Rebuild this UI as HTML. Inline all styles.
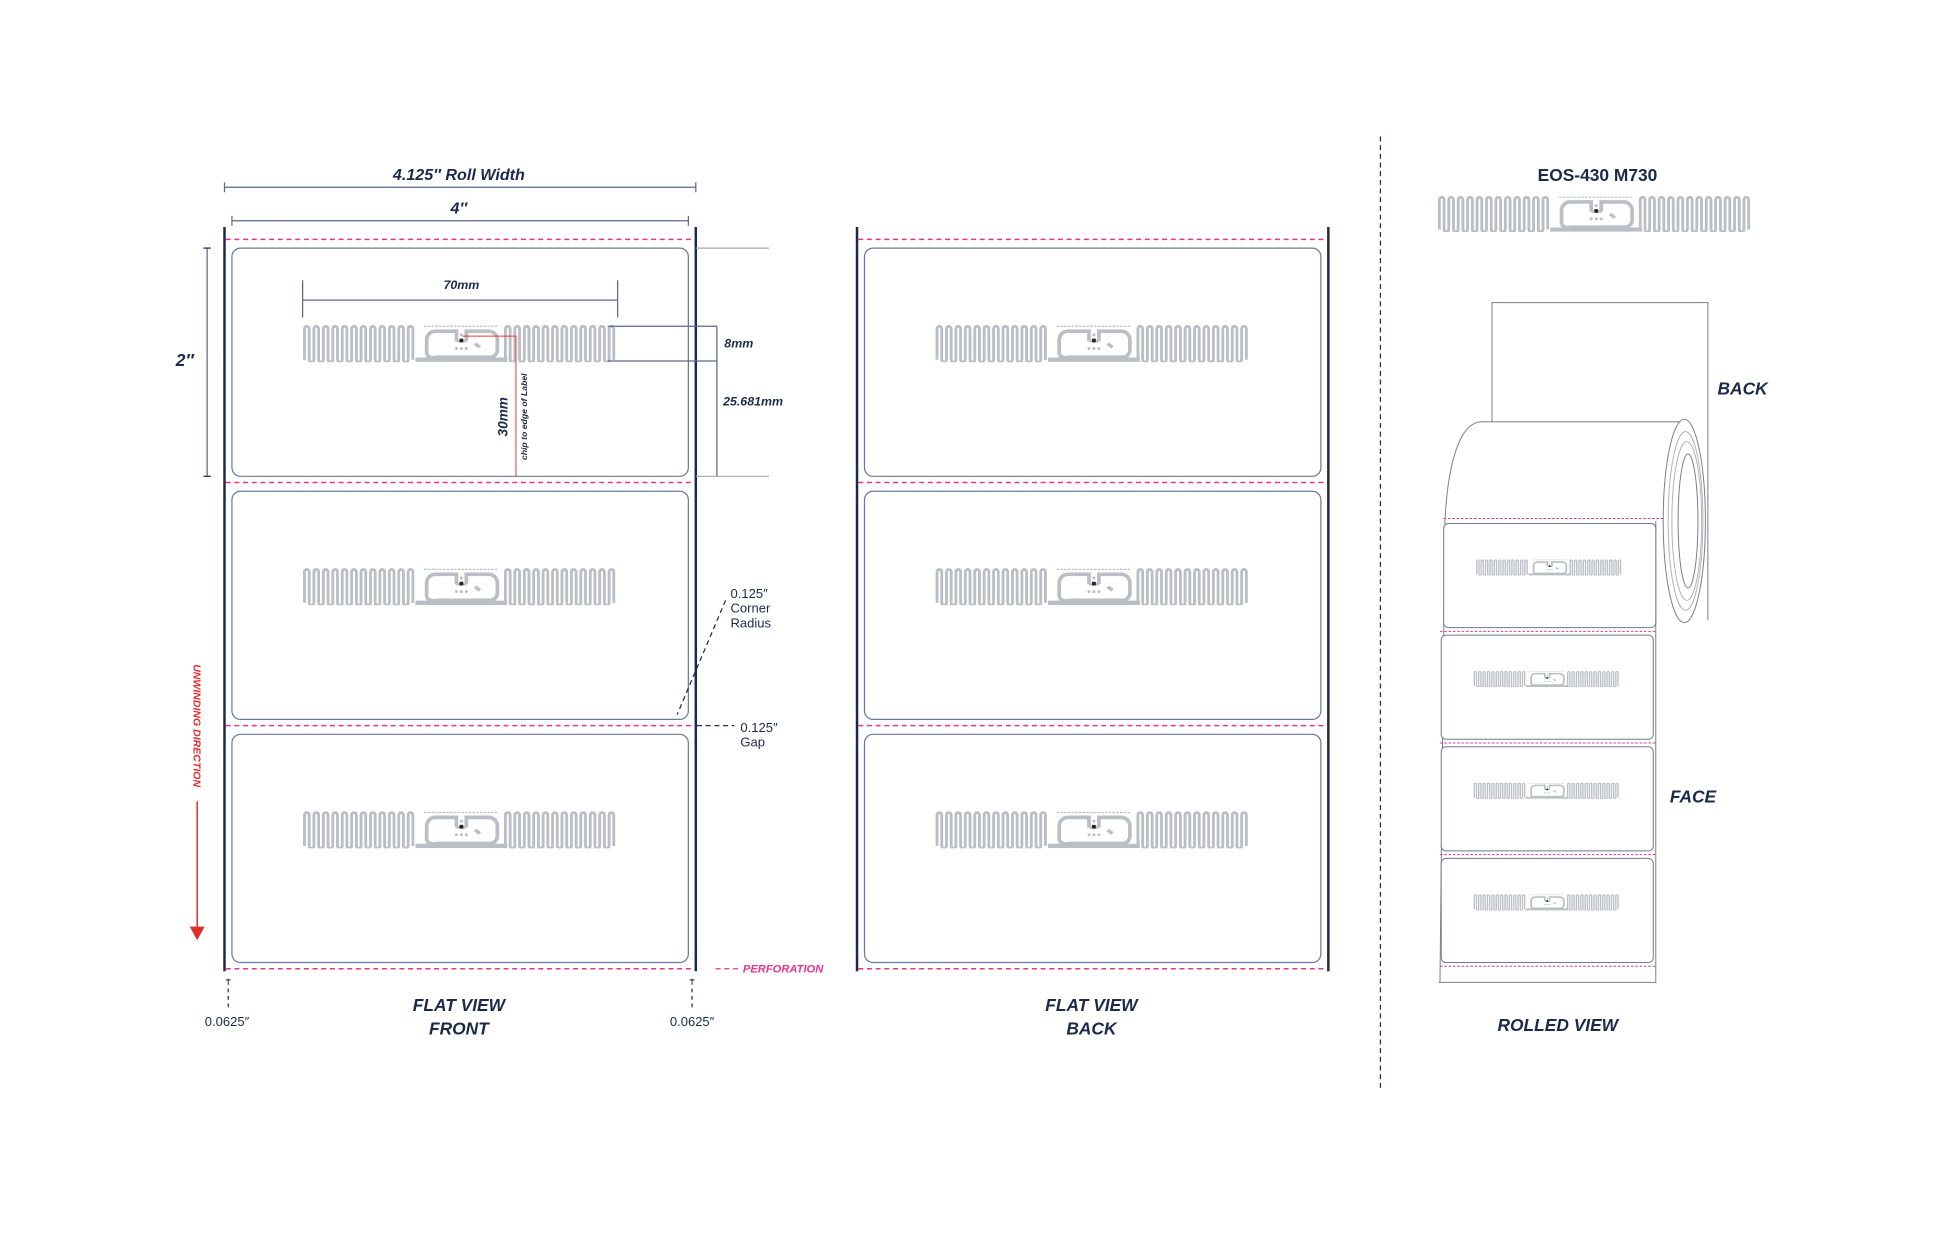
<!DOCTYPE html>
<html><head><meta charset="utf-8">
<style>
html,body{margin:0;padding:0;background:#fff;}
svg{display:block;}
text{font-family:"Liberation Sans",sans-serif;}
.h{font-weight:bold;font-style:italic;fill:#1b2a4a;}
.s{fill:#1b2a4a;font-size:10.5px;}
</style></head><body>
<svg width="1946" height="1259" viewBox="0 0 1569 1015" preserveAspectRatio="none" xmlns="http://www.w3.org/2000/svg">
<defs>
<symbol id="ant" viewBox="0 0 254 30" preserveAspectRatio="none">
<g fill="none" stroke="#b9bfc5" stroke-width="2.3">
<path d="M1.5,28 v-25 a1.9 1.9 0 0 1 3.8 0 v25 a1.9 1.9 0 0 0 3.8 0 v-25 a1.9 1.9 0 0 1 3.8 0 v25 a1.9 1.9 0 0 0 3.8 0 v-25 a1.9 1.9 0 0 1 3.8 0 v25 a1.9 1.9 0 0 0 3.8 0 v-25 a1.9 1.9 0 0 1 3.8 0 v25 a1.9 1.9 0 0 0 3.8 0 v-25 a1.9 1.9 0 0 1 3.8 0 v25 a1.9 1.9 0 0 0 3.8 0 v-25 a1.9 1.9 0 0 1 3.8 0 v25 a1.9 1.9 0 0 0 3.8 0 v-25 a1.9 1.9 0 0 1 3.8 0 v25 a1.9 1.9 0 0 0 3.8 0 v-25 a1.9 1.9 0 0 1 3.8 0 v25 a1.9 1.9 0 0 0 3.8 0 v-25 a1.9 1.9 0 0 1 3.8 0 v25 a1.9 1.9 0 0 0 3.8 0 v-25 a1.9 1.9 0 0 1 3.8 0 v25 a1.9 1.9 0 0 0 3.8 0 v-25 a1.9 1.9 0 0 1 3.8 0 v25 a1.9 1.9 0 0 0 3.8 0 v-25 a1.9 1.9 0 0 1 3.8 0 v25"/>
<path d="M163.5,28 v-25 a1.9 1.9 0 0 1 3.8 0 v25 a1.9 1.9 0 0 0 3.8 0 v-25 a1.9 1.9 0 0 1 3.8 0 v25 a1.9 1.9 0 0 0 3.8 0 v-25 a1.9 1.9 0 0 1 3.8 0 v25 a1.9 1.9 0 0 0 3.8 0 v-25 a1.9 1.9 0 0 1 3.8 0 v25 a1.9 1.9 0 0 0 3.8 0 v-25 a1.9 1.9 0 0 1 3.8 0 v25 a1.9 1.9 0 0 0 3.8 0 v-25 a1.9 1.9 0 0 1 3.8 0 v25 a1.9 1.9 0 0 0 3.8 0 v-25 a1.9 1.9 0 0 1 3.8 0 v25 a1.9 1.9 0 0 0 3.8 0 v-25 a1.9 1.9 0 0 1 3.8 0 v25 a1.9 1.9 0 0 0 3.8 0 v-25 a1.9 1.9 0 0 1 3.8 0 v25 a1.9 1.9 0 0 0 3.8 0 v-25 a1.9 1.9 0 0 1 3.8 0 v25 a1.9 1.9 0 0 0 3.8 0 v-25 a1.9 1.9 0 0 1 3.8 0 v25 a1.9 1.9 0 0 0 3.8 0 v-25 a1.9 1.9 0 0 1 3.8 0 v25"/>
<path d="M91,28 H165" stroke-width="3.5"/>
<path d="M100,24 V12 a7 7 0 0 1 7 -7 H124 V13 M132,13 V5 H150 a7 7 0 0 1 7 7 V20 a6 6 0 0 1 -6 6 H108 a8 8 0 0 1 -8 -2" stroke-width="3"/>
<path d="M124,13 H132" stroke-width="2"/>
<path d="M98,1 H158" stroke-width="1" stroke-dasharray="2 1"/>
</g>
<rect x="126.5" y="11" width="3" height="3" fill="#222"/>
<g fill="#b9bfc5"><circle cx="124" cy="19" r="1.2"/><circle cx="128" cy="19" r="1.2"/><circle cx="132" cy="19" r="1.2"/><circle cx="128" cy="8" r="1.2"/><path d="M140,14 l4,3 -2,2 -4,-3z"/></g>
</symbol>
</defs>

<!-- FRONT -->
<g>
<line x1="181" y1="151" x2="561" y2="151" stroke="#5a6a88" stroke-width="1"/>
<line x1="181" y1="147" x2="181" y2="155" stroke="#5a6a88"/><line x1="561" y1="147" x2="561" y2="155" stroke="#5a6a88"/>
<text x="370" y="145" class="h" font-size="13" text-anchor="middle">4.125″ Roll Width</text>
<line x1="187" y1="178" x2="555" y2="178" stroke="#5a6a88"/>
<line x1="187" y1="174" x2="187" y2="182" stroke="#5a6a88"/><line x1="555" y1="174" x2="555" y2="182" stroke="#5a6a88"/>
<text x="370" y="172" class="h" font-size="13" text-anchor="middle">4″</text>
<line x1="167" y1="200" x2="167" y2="384" stroke="#5a6a88"/>
<line x1="164" y1="200" x2="170" y2="200" stroke="#1b2a4a"/><line x1="164" y1="384" x2="170" y2="384" stroke="#1b2a4a"/>
<text x="149" y="295" class="h" font-size="14" text-anchor="middle">2″</text>

<line x1="181" y1="183" x2="181" y2="783" stroke="#1b2a4a" stroke-width="2"/>
<line x1="561" y1="183" x2="561" y2="783" stroke="#1b2a4a" stroke-width="2"/>
<g stroke="#e8348a" stroke-width="1.2" stroke-dasharray="4 3">
<line x1="182" y1="193" x2="560" y2="193"/><line x1="182" y1="389" x2="560" y2="389"/><line x1="182" y1="585" x2="560" y2="585"/><line x1="182" y1="781" x2="560" y2="781"/>
</g>
<g fill="none" stroke="#6b7a99" stroke-width="1">
<rect x="187" y="200" width="368" height="184" rx="7"/><rect x="187" y="396" width="368" height="184" rx="7"/><rect x="187" y="592" width="368" height="184" rx="7"/>
</g>
<use href="#ant" x="244" y="262" width="254" height="30"/>
<use href="#ant" x="244" y="458" width="254" height="30"/>
<use href="#ant" x="244" y="654" width="254" height="30"/>

<line x1="244" y1="242" x2="498" y2="242" stroke="#5a6a88"/>
<line x1="244" y1="226" x2="244" y2="256" stroke="#5a6a88"/><line x1="498" y1="226" x2="498" y2="256" stroke="#5a6a88"/>
<text x="372" y="233" class="h" font-size="10" text-anchor="middle">70mm</text>
<line x1="490" y1="263" x2="578" y2="263" stroke="#5a6a88"/>
<line x1="490" y1="291" x2="578" y2="291" stroke="#5a6a88"/>
<line x1="578" y1="263" x2="578" y2="384" stroke="#5a6a88"/>
<line x1="561" y1="200" x2="620" y2="200" stroke="#a0a8b6"/>
<line x1="561" y1="384" x2="620" y2="384" stroke="#a0a8b6"/>
<text x="584" y="280" class="h" font-size="10">8mm</text>
<text x="583" y="327" class="h" font-size="10">25.681mm</text>
<polyline points="373,271 416,271 416,384" fill="none" stroke="#e83a3a" stroke-width="0.8"/>
<text transform="translate(409,336) rotate(-90)" class="h" font-size="11" text-anchor="middle">30mm</text>
<text transform="translate(425,336) rotate(-90)" class="h" font-size="7" text-anchor="middle">chip to edge of Label</text>

<text x="589" y="482" class="s">0.125″</text><text x="589" y="494" class="s">Corner</text><text x="589" y="506" class="s">Radius</text>
<line x1="585" y1="484" x2="546" y2="576" stroke="#1b2a4a" stroke-dasharray="4 3"/>
<line x1="562" y1="585" x2="592" y2="585" stroke="#1b2a4a" stroke-dasharray="4 3"/>
<text x="597" y="590" class="s">0.125″</text><text x="597" y="602" class="s">Gap</text>
<line x1="577" y1="781" x2="597" y2="781" stroke="#e8348a" stroke-dasharray="4 3"/>
<text x="599" y="784" font-size="9" font-weight="bold" font-style="italic" fill="#e8348a">PERFORATION</text>

<text transform="translate(156,585) rotate(90)" font-size="8.5" font-weight="bold" font-style="italic" fill="#e02b2b" text-anchor="middle">UNWINDING DIRECTION</text>
<line x1="159" y1="646" x2="159" y2="748" stroke="#e02b2b" stroke-width="1.2"/>
<polygon points="153,747 165,747 159,758" fill="#e02b2b"/>

<g stroke="#1b2a4a" stroke-width="0.8"><line x1="184" y1="789" x2="184" y2="794"/><line x1="182" y1="790" x2="186" y2="790"/><line x1="558" y1="789" x2="558" y2="794"/><line x1="556" y1="790" x2="560" y2="790"/></g>
<line x1="184" y1="797" x2="184" y2="815" stroke="#1b2a4a" stroke-dasharray="3 3"/>
<line x1="558" y1="797" x2="558" y2="815" stroke="#1b2a4a" stroke-dasharray="3 3"/>
<text x="183" y="827" class="s" text-anchor="middle">0.0625″</text>
<text x="558" y="827" class="s" text-anchor="middle">0.0625″</text>
<text x="370" y="815" class="h" font-size="14" text-anchor="middle">FLAT VIEW</text>
<text x="370" y="834" class="h" font-size="14" text-anchor="middle">FRONT</text>
</g>

<!-- BACK -->
<g>
<line x1="691" y1="183" x2="691" y2="783" stroke="#1b2a4a" stroke-width="2"/>
<line x1="1071" y1="183" x2="1071" y2="783" stroke="#1b2a4a" stroke-width="2"/>
<g stroke="#e8348a" stroke-width="1.2" stroke-dasharray="4 3">
<line x1="692" y1="193" x2="1070" y2="193"/><line x1="692" y1="389" x2="1070" y2="389"/><line x1="692" y1="585" x2="1070" y2="585"/><line x1="692" y1="781" x2="1070" y2="781"/>
</g>
<g fill="none" stroke="#6b7a99" stroke-width="1">
<rect x="697" y="200" width="368" height="184" rx="7"/><rect x="697" y="396" width="368" height="184" rx="7"/><rect x="697" y="592" width="368" height="184" rx="7"/>
</g>
<use href="#ant" x="754" y="262" width="254" height="30"/>
<use href="#ant" x="754" y="458" width="254" height="30"/>
<use href="#ant" x="754" y="654" width="254" height="30"/>
<text x="880" y="815" class="h" font-size="14" text-anchor="middle">FLAT VIEW</text>
<text x="880" y="834" class="h" font-size="14" text-anchor="middle">BACK</text>
</g>

<line x1="1113" y1="110" x2="1113" y2="880" stroke="#1b2a4a" stroke-dasharray="4 3"/>

<!-- ROLLED -->
<g>
<text x="1288" y="146" font-size="14" font-weight="bold" fill="#1b2a4a" text-anchor="middle">EOS-430 M730</text>
<use href="#ant" x="1159" y="158" width="254" height="29"/>
<g fill="none" stroke="#7a7f88" stroke-width="0.8">
<path d="M1203,340 V244 H1377 V500"/>
<path d="M1161,792 L1165,420 C1167,380 1175,340 1195,340 H1356"/>
<ellipse cx="1358" cy="420" rx="17" ry="82" fill="#fff"/>
<ellipse cx="1359" cy="420" rx="14" ry="72" stroke="#b0b4ba"/>
<ellipse cx="1360" cy="420" rx="12" ry="64" stroke="#b0b4ba"/>
<ellipse cx="1361" cy="420" rx="8" ry="54"/>
<path d="M1335,420 V792 H1160"/>
</g>
<g stroke="#e8348a" stroke-width="0.8" stroke-dasharray="2 1.5">
<line x1="1164" y1="418" x2="1341" y2="418"/><line x1="1161" y1="509" x2="1335" y2="509"/><line x1="1161" y1="599" x2="1335" y2="599"/><line x1="1161" y1="689" x2="1335" y2="689"/><line x1="1161" y1="779" x2="1335" y2="779"/>
</g>
<g fill="#fff" stroke="#6b7a99" stroke-width="0.8">
<rect x="1164" y="422" width="171" height="84" rx="4"/><rect x="1162" y="512" width="171" height="84" rx="4"/><rect x="1162" y="602" width="171" height="84" rx="4"/><rect x="1162" y="692" width="171" height="84" rx="4"/>
</g>
<use href="#ant" x="1190" y="451" width="118" height="13"/>
<use href="#ant" x="1188" y="541" width="118" height="13"/>
<use href="#ant" x="1188" y="631" width="118" height="13"/>
<use href="#ant" x="1188" y="721" width="118" height="13"/>
<text x="1405" y="318" class="h" font-size="14" text-anchor="middle">BACK</text>
<text x="1365" y="647" class="h" font-size="14" text-anchor="middle">FACE</text>
<text x="1256" y="831" class="h" font-size="14" text-anchor="middle">ROLLED VIEW</text>
</g>
</svg>
</body></html>
